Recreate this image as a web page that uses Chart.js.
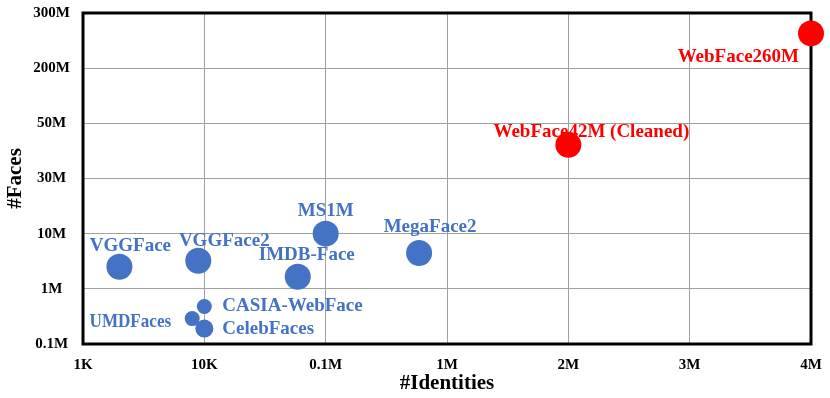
<!DOCTYPE html>
<html>
<head>
<meta charset="utf-8">
<script src="https://cdn.jsdelivr.net/npm/chart.js@4.4.0/dist/chart.umd.min.js"></script>
<style>
    html, body { margin: 0; padding: 0; background: #fff; }
    #wrap { width: 830px; height: 398px; }
</style>
</head>
<body>
<div id="wrap"><canvas id="faceChart"></canvas></div>
<script>
// Tick labels (both axes are evenly spaced steps, not a true scale)
const identityTicks = ['1K', '10K', '0.1M', '1M', '2M', '3M', '4M'];
const faceTicks = ['0.1M', '1M', '10M', '30M', '50M', '200M', '300M'];

// Public datasets (positions, in tick steps)
const publicNames = ['VGGFace', 'VGGFace2', 'IMDB-Face', 'MS1M', 'MegaFace2', 'CASIA-WebFace', 'UMDFaces', 'CelebFaces'];
const publicIdentities = [0.30, 0.95, 1.77, 2.00, 2.77, 1.00, 0.90, 1.00];
const publicFaces = [1.40, 1.51, 1.22, 2.00, 1.65, 0.68, 0.46, 0.28];

// WebFace datasets
const webNames = ['WebFace42M (Cleaned)', 'WebFace260M'];
const webIdentities = [4.00, 6.00];
const webFaces = [3.61, 5.63];

const BLUE = '#4472C4';
const RED = '#FF0000';
const FONT = "'Liberation Serif', 'Times New Roman', serif";

// bubble radius in px (smaller ones for the small sets)
const publicRadius = [13, 13, 13, 13, 13, 7.5, 7.5, 9];
const webRadius = [13, 13];

// where each label sits relative to its bubble
const labelPlace = {
    'VGGFace': { dx: 11, dy: -21, align: 'center' },
    'VGGFace2': { dx: 26, dy: -20, align: 'center' },
    'IMDB-Face': { dx: 9, dy: -22, align: 'center' },
    'MS1M': { dx: 0, dy: -23, align: 'center' },
    'MegaFace2': { dx: 11, dy: -26, align: 'center' },
    'CASIA-WebFace': { dx: 18, dy: 0, align: 'left' },
    'UMDFaces': { dx: -21, dy: 3, align: 'right', squeeze: 0.9 },
    'CelebFaces': { dx: 18, dy: 1, align: 'left' },
    'WebFace42M (Cleaned)': { dx: 23, dy: -13, align: 'center' },
    'WebFace260M': { dx: -12, dy: 24, align: 'right' }
};

function toPoints(xs, ys, rs) {
    return xs.map((x, i) => ({ x: x, y: ys[i], r: rs[i] }));
}

// fixed axis boxes so the plot lands where the reference has it
function fitX(scale) {
    scale.height = 54;
    scale.paddingLeft = 0;
    scale.paddingRight = 0;
}
function fitY(scale) {
    scale.width = 83;
    scale.paddingTop = 0;
    scale.paddingBottom = 0;
}

// Frame round the plot, drawn under the bubbles
const framePlugin = {
    id: 'frame',
    beforeDatasetsDraw(chart) {
        const { ctx, chartArea: a } = chart;
        ctx.save();
        ctx.strokeStyle = '#000';
        ctx.lineWidth = 3;
        ctx.strokeRect(a.left, a.top, a.right - a.left, a.bottom - a.top);
        ctx.restore();
    }
};

// Name labels next to bubbles
const labelPlugin = {
    id: 'bubbleLabels',
    afterDatasetsDraw(chart) {
        const ctx = chart.ctx;
        chart.data.datasets.forEach((ds, di) => {
            const meta = chart.getDatasetMeta(di);
            ds.names.forEach((name, i) => {
                const el = meta.data[i];
                const p = labelPlace[name];
                const sx = p.squeeze || 1;
                ctx.save();
                ctx.font = `bold 19px ${FONT}`;
                ctx.textBaseline = 'middle';
                ctx.fillStyle = ds.backgroundColor;
                ctx.textAlign = p.align;
                ctx.translate(el.x + p.dx, el.y + p.dy);
                ctx.scale(sx, 1);
                ctx.fillText(name, 0, 0);
                ctx.restore();
            });
        });
    }
};

const ctx = document.getElementById('faceChart').getContext('2d');
new Chart(ctx, {
    type: 'bubble',
    data: {
        datasets: [
            {
                names: publicNames,
                data: toPoints(publicIdentities, publicFaces, publicRadius),
                backgroundColor: BLUE,
                borderWidth: 0,
                clip: false
            },
            {
                names: webNames,
                data: toPoints(webIdentities, webFaces, webRadius),
                backgroundColor: RED,
                borderWidth: 0,
                clip: false
            }
        ]
    },
    options: {
        responsive: true,
        maintainAspectRatio: false,
        animation: false,
        layout: { padding: { top: 9, right: 19, left: 0, bottom: 0 } },
        plugins: {
            legend: { display: false },
            tooltip: { enabled: false }
        },
        scales: {
            x: {
                type: 'linear',
                min: 0,
                max: 6,
                afterFit: fitX,
                border: { display: false },
                grid: { color: '#a0a0a0', lineWidth: 1, drawTicks: false },
                ticks: {
                    stepSize: 1,
                    autoSkip: false,
                    maxRotation: 0,
                    padding: 12,
                    color: '#000',
                    font: { family: FONT, size: 15, weight: 'bold' },
                    callback: (v) => identityTicks[v]
                },
                title: {
                    display: true,
                    text: '#Identities',
                    color: '#000',
                    font: { family: FONT, size: 21, weight: 'bold', lineHeight: 1 },
                    padding: { top: 0, bottom: 4 }
                }
            },
            y: {
                type: 'linear',
                min: 0,
                max: 6,
                afterFit: fitY,
                border: { display: false },
                grid: { color: '#a0a0a0', lineWidth: 1, drawTicks: false },
                ticks: {
                    stepSize: 1,
                    autoSkip: false,
                    padding: 13,
                    crossAlign: 'center',
                    color: '#000',
                    font: { family: FONT, size: 15, weight: 'bold' },
                    callback: (v) => faceTicks[v]
                },
                title: {
                    display: true,
                    text: '#Faces',
                    color: '#000',
                    font: { family: FONT, size: 21, weight: 'bold', lineHeight: 1 },
                    padding: { top: 5, bottom: 0 }
                }
            }
        }
    },
    plugins: [framePlugin, labelPlugin]
});
</script>
</body>
</html>
